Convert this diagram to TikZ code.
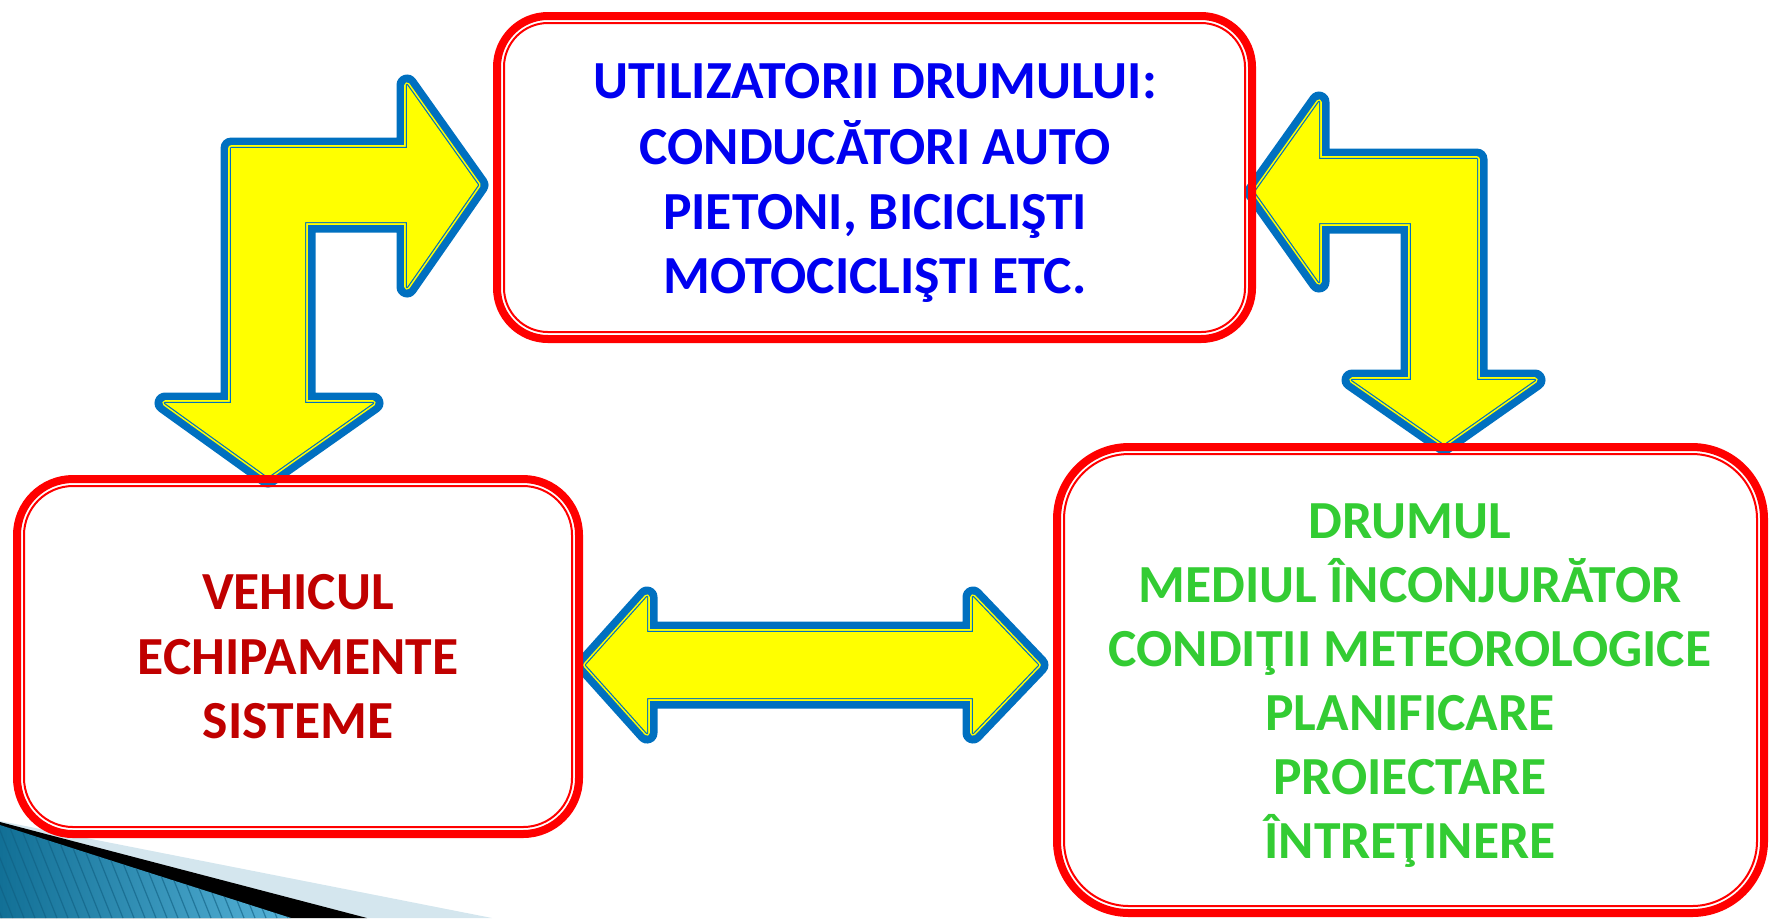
\documentclass[tikz,border=0pt]{standalone}
\usepackage{fontspec}
\setmainfont{Carlito}
\definecolor{boxred}{RGB}{255,0,0}
\definecolor{arrblue}{RGB}{0,112,192}
\definecolor{txtblue}{RGB}{0,0,240}
\definecolor{txtred}{RGB}{192,0,0}
\definecolor{txtgreen}{RGB}{51,204,51}
\definecolor{decolight}{RGB}{212,230,238}
\definecolor{decodark}{RGB}{18,112,150}
\definecolor{decomid}{RGB}{85,178,215}
\definecolor{decostripe}{RGB}{15,95,130}
\definecolor{arrfill}{RGB}{255,255,0}
\begin{document}
\begin{tikzpicture}[x=0.5pt,y=-0.5pt,
  boxthick/.style={draw=boxred, line width=4pt},
  boxthin/.style={draw=boxred, line width=1pt},
  blockarrow/.style={line join=round,
    preaction={draw=arrblue, line width=10.5pt, line join=round},
    preaction={draw=arrfill, line width=2.8pt, line join=round},
    preaction={draw=arrblue, line width=1.2pt, line join=round},
    fill=arrfill},
  lbl/.style={font=\fontsize{26.8pt}{32pt}\selectfont\bfseries, anchor=base, inner sep=0pt},
  stripe/.style={draw=decostripe, line width=0.6pt, opacity=0.6}
]
\useasboundingbox (0,0) rectangle (1770,918);
% bottom-left ornament
\fill[decolight] (0,821) -- (492,918) -- (0,918) -- cycle;
\fill[black] (0,822) -- (367,918) -- (0,918) -- cycle;
\shade[left color=decodark, right color=decomid] (0,825) -- (291,918) -- (0,918) -- cycle;
\begin{scope}
  \clip (0,825) -- (291,918) -- (0,918) -- cycle;
  \foreach \i in {-60,-49,...,300} \draw[stripe] (\i,818) -- (\i+40,918);
\end{scope}
% block arrows
\path[blockarrow] (231,403) -- (231,148) -- (407,148) -- (407,85) -- (478,185) -- (407,287) -- (407,222) -- (305,222) -- (305,403) -- (373,403) -- (268,477) -- (165,403) -- cycle;
\path[blockarrow] (1255,192) -- (1319,102) -- (1319,159) -- (1477,159) -- (1477,380) -- (1535,380) -- (1444,444) -- (1352,380) -- (1411,380) -- (1411,223) -- (1319,223) -- (1319,282) -- cycle;
\path[blockarrow] (586,665) -- (647,597) -- (647,632) -- (973,632) -- (973,597) -- (1038,665) -- (973,733) -- (973,698) -- (647,698) -- (647,733) -- cycle;
% boxes
\draw[boxthick, rounded corners=25.5pt] (497,16) rectangle (1252,339);
\draw[boxthin, rounded corners=22pt] (504,23) rectangle (1245,332);
\draw[boxthick, rounded corners=28pt] (17,479) rectangle (579,834);
\draw[boxthin, rounded corners=24.5pt] (24,486) rectangle (572,827);
\draw[boxthick, rounded corners=36pt] (1057,447) rectangle (1764,913);
\draw[boxthin, rounded corners=32.5pt] (1064,454) rectangle (1757,906);
% texts
\node[lbl, text=txtblue] (u1) at (875,98.5) {UTILIZATORII DRUMULUI:};
\node[lbl, text=txtblue] (u2) at (875,164) {CONDUCĂTORI AUTO};
\node[lbl, text=txtblue] (u3) at (875,229) {PIETONI, BICICLIŞTI};
\node[lbl, text=txtblue] (u4) at (875,293.5) {MOTOCICLIŞTI ETC.};
\node[lbl, text=txtred] (v1) at (298,609.6) {VEHICUL};
\node[lbl, text=txtred] (v2) at (298,674) {ECHIPAMENTE};
\node[lbl, text=txtred] (v3) at (298,738.3) {SISTEME};
\node[lbl, text=txtgreen] (d1) at (1410,538.5) {DRUMUL};
\node[lbl, text=txtgreen] (d2) at (1410,602.8) {MEDIUL ÎNCONJURĂTOR};
\node[lbl, text=txtgreen] (d3) at (1410,666) {CONDIŢII METEOROLOGICE};
\node[lbl, text=txtgreen] (d4) at (1410,730.4) {PLANIFICARE};
\node[lbl, text=txtgreen] (d5) at (1410,794.7) {PROIECTARE};
\node[lbl, text=txtgreen] (d6) at (1410,858) {ÎNTREŢINERE};
\end{tikzpicture}
\end{document}
